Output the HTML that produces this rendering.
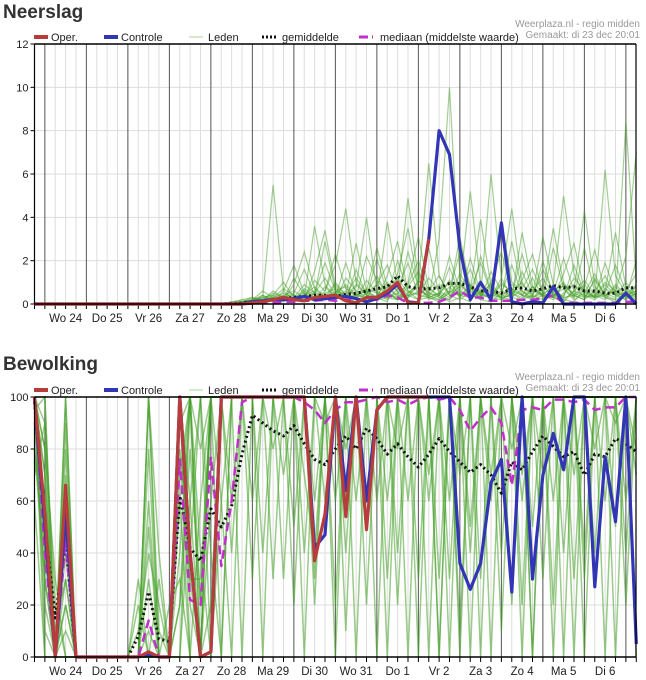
<!DOCTYPE html>
<html><head><meta charset="utf-8">
<style>
body{margin:0;background:#fff;width:646px;height:680px;overflow:hidden;font-family:"Liberation Sans",sans-serif}
svg{position:absolute;left:0;top:0}
</style></head>
<body>
<svg id="c" width="646" height="680"></svg>
<script>
// ---- data ----
const dayLabels = ["Wo 24","Do 25","Vr 26","Za 27","Zo 28","Ma 29","Di 30","Wo 31","Do 1","Vr 2","Za 3","Zo 4","Ma 5","Di 6"];
const topTicks = [0,2,4,6,8,10,12];
const botTicks = [0,20,40,60,80,100];

// Neerslag (mm), index = 6h step
const rainOper = [0,0,0,0,0,0,0,0,0,0,0,0,0,0,0,0,0,0,0,0,0,0.05,0.1,0.2,0.3,0.2,0.15,0.3,0.35,0.4,0.15,0.05,0.3,0.3,0.6,1.0,0.05,0.05,3.0];
const rainCtrl = [0,0,0,0,0,0,0,0,0,0,0,0,0,0,0,0,0,0,0,0,0,0.1,0.15,0.2,0.2,0.25,0.35,0.2,0.25,0.3,0.35,0.25,0.1,0.25,0.5,0.9,0.1,0.05,3.0,8.0,6.9,2.6,0.2,1.0,0.2,3.75,0.1,0,0.1,0.05,0.8,0,0,0,0,0,0,0.5,0];
const rainMean = [0,0,0,0,0,0,0,0,0,0,0,0,0,0,0,0,0,0,0,0.02,0.05,0.1,0.15,0.2,0.25,0.3,0.35,0.4,0.4,0.35,0.45,0.5,0.6,0.7,0.8,1.3,0.8,0.7,0.7,0.75,0.95,0.95,0.8,0.6,0.6,0.5,0.7,0.75,0.6,0.7,0.85,0.75,0.8,0.6,0.6,0.5,0.5,0.75,0.75];
const rainMedian = [0,0,0,0,0,0,0,0,0,0,0,0,0,0,0,0,0,0,0,0,0,0.02,0.05,0.05,0.1,0.1,0.15,0.15,0.2,0.15,0.2,0.15,0.2,0.2,0.4,0.3,0.05,0.05,0.05,0.1,0.3,0.6,0.3,0.3,0.15,0.15,0.15,0.2,0.2,0.25,0.4,0.05,0.05,0.05,0.05,0.05,0.05,0.1,0.1];
const rainStart = 18;
const rainM1 = [0,0,0.1,0.3,0.2,0.5,0.3,0.1,0.4,0.8,0.3,0.2,1.2,0.6,0.3,2.1,0.5,0.2,0.8,1.5,0.3,0.1,0.6,2.4,0.8,0.2,0.1,0.5,1.8,0.4,0.2,0.9,0.3,0.1,0.6,1.1,0.4,0.2,0.8,0.3,0.5];
const rainM2 = [0,0,0,0.2,0.4,0.1,0.6,1.8,0.5,0.2,0.3,1.0,0.4,2.8,0.6,0.3,0.1,1.4,3.5,0.8,0.2,0.4,1.1,0.3,0.1,2.2,0.6,0.3,0.2,1.5,0.4,3.1,0.9,0.2,0.1,0.7,0.3,1.9,0.5,0.2,0.8];
const rainM3 = [0,0.1,0.2,0.1,0.3,5.5,0.6,0.2,0.1,0.5,1.2,0.4,0.2,0.8,4.0,0.6,0.3,0.2,0.5,1.0,2.6,0.4,0.1,0.3,0.9,0.4,6.0,1.2,0.3,0.2,0.4,1.6,0.5,0.2,0.6,4.3,0.8,0.3,0.1,0.4,0.6];
const rainM4 = [0,0,0.1,0.2,0.6,0.3,0.2,0.9,2.4,0.7,0.3,0.5,0.2,1.6,0.4,0.3,3.8,0.9,0.4,0.2,0.6,1.3,0.4,0.8,5.2,0.9,0.3,0.2,0.7,0.4,1.2,0.3,2.6,0.7,0.2,0.5,1.4,0.3,0.2,8.4,1.0];
const rainM5 = [0,0,0,0.1,0.1,0.4,1.0,0.3,0.2,1.5,3.4,0.8,0.3,0.1,0.5,0.9,0.4,2.0,0.6,0.2,0.3,3.0,10.0,1.2,0.3,0.4,0.8,0.3,2.9,0.6,0.2,0.4,0.9,5.0,1.4,0.4,0.2,0.6,3.3,0.8,0.3];
const rainM6 = [0,0,0.2,0.3,0.1,0.2,0.4,0.6,0.3,3.6,0.9,0.3,0.6,0.2,1.1,0.5,0.2,0.7,1.9,0.4,0.8,0.3,0.2,1.4,0.6,3.9,0.8,0.2,0.5,1.0,0.3,0.6,3.5,0.9,0.4,0.2,1.2,0.4,0.6,2.2,7.0];
const rainM7 = [0,0.1,0.1,0.2,0.3,0.2,0.1,0.3,0.5,0.2,0.6,1.8,4.4,1.0,0.4,0.2,0.3,1.2,0.5,0.9,6.5,1.3,0.4,0.2,0.6,0.3,1.0,2.4,0.5,0.2,0.8,0.4,0.3,1.4,2.8,0.6,0.3,0.9,0.4,1.0,0.4];
const rainM8 = [0,0,0,0.2,0.2,0.3,0.5,0.3,0.4,0.6,0.2,0.9,0.4,0.3,2.2,1.1,0.5,0.2,1.0,3.1,0.7,0.4,1.7,0.4,0.3,0.9,0.5,3.8,1.0,0.6,0.3,2.0,0.4,0.3,1.8,0.5,0.3,6.2,1.3,0.5,0.2];
const rainM9 = [0,0,0.1,0.1,0.2,0.6,0.3,0.2,0.7,0.4,2.9,0.6,0.8,0.3,0.5,1.3,0.4,0.3,2.4,0.8,0.3,0.5,0.2,0.7,1.6,0.4,0.3,1.2,4.4,0.9,0.4,0.2,0.6,1.0,0.3,0.8,2.5,0.5,0.3,0.6,1.4];
const rainM10 = [0,0,0,0.1,0.4,0.2,0.3,0.4,0.2,0.3,0.5,0.7,0.3,0.4,0.6,2.6,0.8,0.3,0.4,0.5,1.2,0.6,0.3,0.9,0.4,0.2,1.5,0.6,0.3,3.3,0.8,0.4,0.2,0.5,0.9,0.3,0.4,1.0,0.6,0.3,2.0];
const rainM11 = [0,0,0.1,0.2,0.1,0.3,0.2,1.2,0.4,0.2,0.8,0.3,1.9,0.5,0.2,0.4,1.0,0.6,4.9,1.1,0.4,0.2,0.8,0.3,2.1,0.5,0.3,0.6,0.4,1.1,2.3,0.5,0.3,0.9,0.4,0.2,0.6,1.3,0.4,0.2,0.5];
const rainM12 = [0,0,0,0.1,0.2,0.1,0.3,0.2,0.6,0.3,0.2,0.5,0.3,0.9,0.4,0.3,0.6,0.2,0.4,0.8,0.3,0.2,0.5,1.0,0.3,0.6,0.4,0.3,0.9,0.4,0.3,0.5,0.7,0.3,0.4,0.9,0.3,0.4,0.2,0.5,0.3];
const rainM13 = [0,0,0.1,0.2,0.3,0.4,0.2,0.3,0.9,0.5,0.3,0.6,0.4,1.2,0.5,0.3,0.8,0.4,0.3,1.1,0.5,0.4,2.2,0.6,0.3,0.5,0.9,0.4,0.3,0.7,1.6,0.5,0.3,0.4,1.2,0.6,0.3,0.5,1.8,0.6,0.4];
const rainM14 = [0,0,0,0.1,0.2,0.3,0.7,0.4,0.3,1.1,0.6,2.3,0.7,0.4,0.3,0.9,1.8,0.5,0.3,0.6,0.4,0.9,0.5,3.1,0.7,0.4,0.3,1.0,0.5,0.3,0.6,1.2,0.4,0.7,0.3,2.6,0.5,0.3,0.9,0.4,0.6];
const rainM15 = [0,0,0.1,0.1,0.2,0.2,0.3,0.5,1.6,0.4,0.3,0.5,0.9,0.4,0.6,0.3,1.3,2.9,0.6,0.4,0.3,0.5,1.0,0.4,0.6,1.9,0.5,0.3,0.4,2.3,0.6,0.4,0.3,0.9,0.5,0.3,1.1,0.4,0.6,0.3,0.9];
const rainM16 = [0,0,0,0.1,0.1,0.2,0.4,0.2,0.3,0.5,1.9,0.6,0.3,0.4,0.7,0.5,0.3,0.5,0.9,2.0,0.5,0.3,0.6,0.4,0.8,0.5,0.3,0.9,0.6,0.4,0.8,0.3,0.5,2.1,0.6,0.4,0.3,0.7,0.4,0.5,0.8];

// Bewolking (%)
const cloudOper = [100,55,0,66,0,0,0,0,0,0,0,2,0,0,100,40,0,2,100,100,100,100,100,100,100,100,100,37,55,100,54,100,49,95,100,100,100,100,100];
const cloudCtrl = [100,50,0,55,0,0,0,0,0,0,0,1,0,0,100,40,0,2,100,100,100,100,100,100,100,100,100,42,47,100,64,100,60,95,100,100,100,100,100,100,100,36,26,36,67,76,25,100,30,70,86,72,100,100,27,77,52,100,5];
const cloudMean = [98,50,15,45,0,0,0,0,0,0,8,25,7,6,62,42,37,57,50,58,78,93,90,87,85,89,82,76,74,80,85,80,88,84,78,82,77,73,78,84,79,75,71,74,70,63,75,72,79,85,81,77,79,70,78,77,84,82,79];
const cloudMedian = [100,40,0,45,0,0,0,0,0,0,0,14,0,0,76,22,20,77,35,60,98,100,100,100,100,100,98,95,90,95,98,98,99,100,98,99,97,99,100,99,100,95,87,92,96,90,66,95,96,95,99,99,98,99,95,96,96,100,100];
const cloudM1 = [100,80,0,90,0,0,0,0,0,0,0,0,0,0,100,30,0,100,100,100,100,100,100,100,100,100,70,40,100,100,60,100,100,100,100,80,100,100,100,100,60,100,100,30,100,100,100,70,100,100,100,40,100,100,100,100,90,100,100];
const cloudM2 = [100,20,0,40,0,0,0,0,0,0,0,60,0,0,60,100,0,0,100,100,100,100,100,80,100,100,100,100,90,100,100,100,20,100,100,100,100,100,60,100,100,100,100,100,0,100,100,100,50,100,100,100,100,30,100,100,100,100,100];
const cloudM3 = [95,100,0,0,0,0,0,0,0,0,0,100,0,0,20,100,100,40,0,100,100,100,40,100,100,100,100,100,100,100,80,100,100,100,30,100,100,100,100,100,100,70,100,100,100,100,100,100,0,100,100,100,100,100,100,60,100,100,100];
const cloudM4 = [80,40,0,100,0,0,0,0,0,0,30,0,0,0,100,100,100,100,60,0,100,100,100,100,100,100,100,100,100,60,100,100,100,100,100,100,0,100,100,100,100,100,50,100,100,100,100,20,100,100,100,100,100,100,100,100,100,40,100];
const cloudM5 = [100,80,30,0,0,0,0,0,0,0,10,40,20,0,80,40,100,100,100,100,100,100,100,100,100,100,100,20,100,100,100,100,100,100,100,100,100,100,100,30,100,100,100,100,100,100,80,100,100,100,60,100,100,100,100,0,100,100,100];
const cloudM6 = [60,0,0,20,0,0,0,0,0,0,0,100,40,0,100,20,0,60,100,100,100,100,100,100,100,50,100,100,100,100,100,100,100,60,100,100,100,0,100,100,100,100,100,100,100,40,100,100,100,100,100,100,100,0,100,100,100,100,80];
const cloudM7 = [100,100,0,60,0,0,0,0,0,0,0,0,0,20,30,0,0,100,0,100,100,100,100,100,30,100,100,100,100,100,100,0,100,100,100,100,100,100,100,100,100,100,0,100,100,100,100,100,100,70,100,100,100,100,100,100,100,100,0];
const cloudM8 = [100,50,10,30,0,0,0,0,0,0,0,0,0,0,0,100,80,100,100,40,100,100,100,100,100,100,100,100,100,100,100,100,100,100,100,20,100,100,100,100,0,100,100,100,100,100,100,100,100,100,20,100,100,100,100,100,0,100,100];
const cloudM9 = [90,30,0,70,0,0,0,0,0,0,0,30,0,0,100,100,40,0,100,100,100,60,100,100,100,100,100,100,100,100,10,100,100,100,100,100,100,100,70,100,100,100,100,100,100,100,20,100,100,100,100,100,70,100,100,100,100,100,100];
const cloudM10 = [100,70,0,0,0,0,0,0,0,0,0,0,0,0,0,60,100,100,100,100,100,100,100,100,100,100,40,100,100,100,100,100,100,100,60,100,100,100,100,100,100,10,100,100,100,100,100,100,100,100,100,100,100,100,40,100,100,100,100];
const cloudM11 = [100,10,0,50,0,0,0,0,0,0,0,100,10,0,60,0,0,100,100,100,100,100,100,30,100,100,100,100,100,100,100,100,100,100,100,100,100,30,100,100,100,100,100,100,60,100,100,100,100,100,100,100,30,100,100,100,100,100,70];
const cloudM12 = [70,90,20,0,0,0,0,0,0,0,0,0,0,0,90,100,20,100,100,100,100,100,100,100,100,100,100,60,100,0,100,100,100,100,100,100,100,100,100,0,100,100,100,100,100,100,100,60,100,100,100,100,100,100,100,100,100,100,100];
const cloudM13 = [100,40,0,80,0,0,0,0,0,0,0,80,0,0,100,60,0,100,100,60,100,100,0,100,100,100,100,100,60,100,100,100,100,100,0,100,100,100,100,100,100,100,40,100,100,100,100,100,0,100,100,100,100,100,100,100,50,100,100];
const cloudM14 = [90,60,0,20,0,0,0,0,0,0,20,0,0,0,40,100,0,20,100,100,100,100,100,100,70,100,100,30,100,100,100,100,100,0,100,100,100,100,100,100,30,100,100,100,100,10,100,100,100,100,100,0,100,100,100,100,100,20,100];
const cloudM15 = [100,0,0,100,0,0,0,0,0,0,0,0,30,0,100,0,60,100,100,100,0,100,100,100,100,100,100,100,100,20,100,100,100,100,100,100,60,100,0,100,100,100,100,100,100,100,100,0,100,100,100,100,0,100,100,100,100,100,100];
const cloudM16 = [100,90,0,30,0,0,0,0,0,0,0,50,0,0,70,100,100,0,60,100,100,100,100,100,100,20,100,100,100,100,100,100,100,100,100,40,100,100,100,0,100,100,100,100,70,100,100,100,100,100,0,100,100,100,80,100,100,100,100];
const cloudM17 = [80,30,0,10,0,0,0,0,0,0,0,0,0,0,20,80,20,100,100,100,100,30,100,100,100,100,100,100,100,100,40,100,100,100,100,100,100,100,100,100,100,0,100,100,100,100,100,100,100,30,100,100,100,100,100,100,100,60,100];
const cloudM18 = [100,70,0,60,0,0,0,0,0,0,0,10,0,0,100,30,30,100,100,100,100,100,100,100,100,100,0,100,100,100,100,60,100,100,100,100,100,100,100,100,100,100,100,0,100,100,100,100,100,100,100,100,100,40,100,100,100,100,100];

const rainMembers = [rainM1,rainM2,rainM3,rainM4,rainM5,rainM6,rainM7,rainM8,rainM9,rainM10,rainM11,rainM12,rainM13,rainM14,rainM15,rainM16];
const cloudMembers = [cloudM1,cloudM2,cloudM3,cloudM4,cloudM5,cloudM6,cloudM7,cloudM8,cloudM9,cloudM10,cloudM11,cloudM12,cloudM13,cloudM14,cloudM15,cloudM16,cloudM17,cloudM18];

// ---- drawing ----
const NS = "http://www.w3.org/2000/svg";
const svg = document.getElementById("c");
const X0 = 34.5, STEP = 10.375, XR = 636;
function mk(tag, attrs, parent){ const e=document.createElementNS(NS,tag); for(const k in attrs) e.setAttribute(k,attrs[k]); (parent||svg).appendChild(e); return e; }
function xs(i){ return X0 + i*STEP; }

function chart(cfg){
  const g = mk("g",{});
  
  
  const yv = v => cfg.yb - (v - cfg.min)/(cfg.max - cfg.min)*(cfg.yb - cfg.yt);
  const t = mk("text",{x:3,y:cfg.titleY,"font-size":19,"font-weight":"bold",fill:"#333"},g); t.textContent=cfg.title;
  
  
  cfg.ticks.forEach(v=>{
    mk("line",{x1:X0,x2:XR,y1:yv(v),y2:yv(v),stroke:"#ddd","stroke-width":1},g);
    mk("line",{x1:X0-4,x2:X0,y1:yv(v),y2:yv(v),stroke:"#000"},g);
    const l = mk("text",{x:X0-6,y:yv(v)+4,"font-size":11,"text-anchor":"end",fill:"#222"},g); l.textContent=v;
    
    
  });
  for(let i=1;i<58;i++){
    const x=xs(i);
    const day = (i-5)%4===0;
    mk("line",{x1:x,x2:x,y1:cfg.yt,y2:cfg.yb,stroke:day?"#555":"#ddd","stroke-width":1},g);
  }
  for(let i=0;i<=58;i++) mk("line",{x1:xs(i),x2:xs(i),y1:cfg.yb,y2:cfg.yb+5,stroke:"#000"},g);
  dayLabels.forEach((d,k)=>{
    const l = mk("text",{x:xs(3+4*k),y:cfg.yb+18,"font-size":11.5,"text-anchor":"middle",fill:"#222"},g); l.textContent=d;
    
    
  });
  const path = (arr, start) => arr.map((v,j)=>(j?"L":"M")+xs(start+j).toFixed(1)+","+yv(v).toFixed(1)).join(" ");
  cfg.members.forEach(m=>{
    const p = mk("path",{d:path(m,cfg.mStart),fill:"none",stroke:cfg.mColor,"stroke-width":cfg.mWidth},g);
    
    
  });
  const series = [
    [cfg.mean,"#111",3,"2,3","mean-line"],
    [cfg.median,"#c030c8",2.5,"9,5","median-line"],
    [cfg.ctrl,"#3236b4",3.2,"","control-line"],
    [cfg.oper,"#b83c3c",3.2,"","oper-line"]
  ];
  series.forEach(s=>{
    const p = mk("path",{d:path(s[0],0),fill:"none",stroke:s[1],"stroke-width":s[2],"stroke-dasharray":s[3],"stroke-linejoin":"round"},g);
    
    
  });
  mk("line",{x1:X0,x2:XR,y1:cfg.yt,y2:cfg.yt,stroke:"#000","stroke-width":1.5},g);
  mk("line",{x1:X0,x2:XR,y1:cfg.yb,y2:cfg.yb,stroke:"#000","stroke-width":1.5},g);
  mk("line",{x1:X0,x2:X0,y1:cfg.yt,y2:cfg.yb,stroke:"#000","stroke-width":1.2},g);
  mk("line",{x1:XR,x2:XR,y1:cfg.yt,y2:cfg.yb,stroke:"#000","stroke-width":1.2},g);
  const ly = cfg.yt - 7;
  const leg = [
    [34,"#b83c3c",4,"","Oper.",51,"legend-oper"],
    [104,"#3236b4",4,"","Controle",121,"legend-controle"],
    [189,"#b8d8a8",1.2,"","Leden",208,"legend-leden"],
    [262,"#111",3,"2,2","gemiddelde",282,"legend-gemiddelde"],
    [359,"#c030c8",3,"9,4","mediaan (middelste waarde)",380,"legend-mediaan"]
  ];
  leg.forEach(l=>{
    const lg = mk("g",{},g);
    
    
    mk("line",{x1:l[0],x2:l[0]+14,y1:ly,y2:ly,stroke:l[1],"stroke-width":l[2],"stroke-dasharray":l[3]},lg);
    const tx = mk("text",{x:l[5],y:ly+4,"font-size":11,fill:"#222"},lg); tx.textContent=l[4];
  });
  const w1 = mk("text",{x:640,y:cfg.yt-17,"font-size":10,"text-anchor":"end",fill:"#999"},g); w1.textContent="Weerplaza.nl - regio midden";
  
  
  const w2 = mk("text",{x:640,y:cfg.yt-6,"font-size":10,"text-anchor":"end",fill:"#999"},g); w2.textContent="Gemaakt: di 23 dec 20:01";
  
  
}

chart({name:"neerslag-chart",title:"Neerslag",titleY:18,yt:44,yb:304,min:0,max:12,ticks:topTicks,
  members:rainMembers,mStart:rainStart,mColor:"rgba(70,160,40,0.5)",mWidth:1.2,mean:rainMean,median:rainMedian,ctrl:rainCtrl,oper:rainOper});
chart({name:"bewolking-chart",title:"Bewolking",titleY:370,yt:397,yb:657,min:0,max:100,ticks:botTicks,
  members:cloudMembers,mStart:0,mColor:"rgba(70,160,40,0.55)",mWidth:1.5,mean:cloudMean,median:cloudMedian,ctrl:cloudCtrl,oper:cloudOper});
</script>
</body></html>
